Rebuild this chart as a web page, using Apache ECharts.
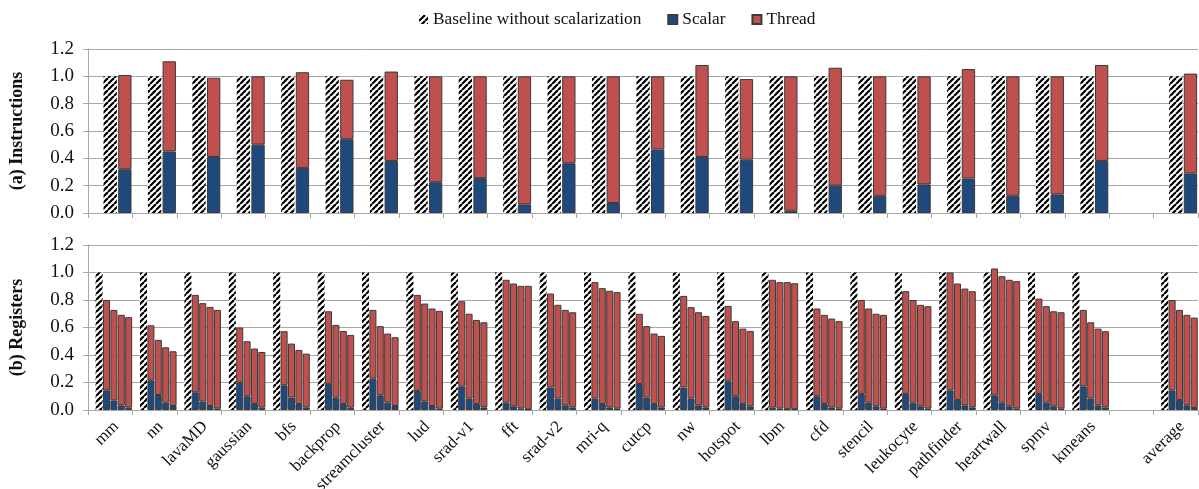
<!DOCTYPE html>
<html><head><meta charset="utf-8">
<script src="https://cdn.jsdelivr.net/npm/echarts@6/dist/echarts.min.js"></script>
<style>html,body{margin:0;padding:0;background:#fff}#c{width:1199px;height:489px}</style>
</head><body><div id="c"></div>
<script>
const categories = ['mm','nn','lavaMD','gaussian','bfs','backprop','streamcluster','lud','srad-v1','fft','srad-v2','mri-q','cutcp','nw','hotspot','lbm','cfd','stencil','leukocyte','pathfinder','heartwall','spmv','kmeans','','average'];
const yTicks = [0, 0.2, 0.4, 0.6, 0.8, 1.0, 1.2];

// (a) Instructions
const instrBaseline = [1,1,1,1,1,1,1,1,1,1,1,1,1,1,1,1,1,1,1,1,1,1,1,null,1];
const instrScalar = [0.32,0.45,0.41,0.50,0.33,0.54,0.38,0.225,0.255,0.063,0.364,0.073,0.464,0.41,0.39,0.017,0.20,0.126,0.209,0.252,0.126,0.136,0.381,null,0.29];
const instrThread = [0.69,0.66,0.58,0.50,0.70,0.435,0.655,0.775,0.745,0.937,0.636,0.927,0.536,0.673,0.59,0.983,0.863,0.874,0.791,0.801,0.874,0.864,0.702,null,0.73];

// (b) Registers
const regBaseline = [1,1,1,1,1,1,1,1,1,1,1,1,1,1,1,1,1,1,1,1,1,1,1,null,1];
const regScalar1 = [0.143,0.216,0.129,0.20,0.18,0.19,0.228,0.138,0.172,0.053,0.163,0.083,0.189,0.163,0.209,0.017,0.10,0.117,0.117,0.143,0.107,0.117,0.172,null,0.143];
const regThread1 = [0.657,0.40,0.708,0.40,0.393,0.528,0.50,0.699,0.619,0.894,0.684,0.847,0.511,0.667,0.548,0.93,0.638,0.683,0.747,0.857,0.922,0.693,0.556,null,0.657];
const regScalar2 = [0.070,0.109,0.061,0.10,0.09,0.09,0.107,0.063,0.083,0.027,0.083,0.044,0.09,0.083,0.10,0.01,0.044,0.053,0.053,0.073,0.053,0.053,0.083,null,0.073];
const regThread2 = [0.658,0.401,0.716,0.40,0.393,0.529,0.503,0.711,0.617,0.893,0.682,0.842,0.52,0.665,0.546,0.92,0.648,0.685,0.747,0.847,0.92,0.702,0.555,null,0.655];
const regScalar3 = [0.034,0.053,0.029,0.044,0.044,0.044,0.053,0.029,0.044,0.01,0.034,0.019,0.044,0.034,0.044,0.006,0.019,0.027,0.027,0.034,0.027,0.027,0.034,null,0.034];
const regThread3 = [0.658,0.403,0.721,0.403,0.393,0.531,0.503,0.709,0.611,0.893,0.694,0.848,0.512,0.677,0.548,0.924,0.646,0.673,0.738,0.849,0.92,0.691,0.558,null,0.658];
const regScalar4 = [0.017,0.029,0.012,0.017,0.019,0.017,0.029,0.01,0.019,0.005,0.019,0.01,0.019,0.019,0.027,0.006,0.01,0.01,0.01,0.019,0.01,0.01,0.019,null,0.015];
const regThread4 = [0.658,0.398,0.716,0.405,0.391,0.529,0.50,0.711,0.619,0.898,0.692,0.847,0.52,0.665,0.548,0.916,0.636,0.682,0.745,0.845,0.927,0.701,0.554,null,0.657];

const NAME_BASE = 'Baseline without scalarization';
const NAME_SCALAR = 'Scalar';
const NAME_THREAD = 'Thread';

// hatch pattern
const pc = document.createElement('canvas');
const S = 6; pc.width = S; pc.height = S;
const g = pc.getContext('2d');
g.fillStyle = '#fff'; g.fillRect(0,0,S,S);
g.strokeStyle = '#000'; g.lineWidth = 2.2;
for (let k = -1; k <= 1; k++) { g.beginPath(); g.moveTo(k*S, S); g.lineTo(k*S + S, 0); g.stroke(); }
const hatch = { image: pc, repeat: 'repeat' };

const FONT = '"Liberation Serif", "Times New Roman", serif';
const GRID_COLOR = '#a8a8a8';
const BORDER = '#3a3a3a';
const C_SCALAR = '#1f497d';
const C_THREAD = '#c0504d';

function xAxisCfg(idx, showLabels) {
  return {
    type: 'category', gridIndex: idx, data: categories,
    axisLine: { lineStyle: { color: GRID_COLOR, width: 1 } },
    axisTick: { show: true, length: 5, lineStyle: { color: GRID_COLOR } },
    axisLabel: { show: showLabels, interval: 0, rotate: 45, verticalAlign: 'top', fontFamily: FONT, fontSize: 17, color: '#111', margin: 8 }
  };
}
function yAxisCfg(idx, name) {
  return {
    type: 'value', gridIndex: idx, min: 0, max: 1.2, interval: 0.2,
    name: name, nameLocation: 'middle', nameRotate: 90, nameGap: 62,
    nameTextStyle: { fontFamily: FONT, fontSize: 18, fontWeight: 'bold', color: '#111' },
    axisLine: { show: true, lineStyle: { color: GRID_COLOR, width: 1 } },
    axisTick: { show: true, length: 5, lineStyle: { color: GRID_COLOR } },
    splitLine: { show: true, lineStyle: { color: GRID_COLOR, width: 1 } },
    axisLabel: { fontFamily: FONT, fontSize: 19, color: '#111', margin: 14, formatter: v => v.toFixed(1) }
  };
}

const topGap = { barGap: '10%', barCategoryGap: '4%' };
const botGap = { barGap: '5%', barCategoryGap: '1%' };
const stackStyle = c => ({ color: c, borderColor: BORDER, borderWidth: 1 });

const series = [];
// top panel
series.push(Object.assign({ type: 'bar', name: 'pad', xAxisIndex: 0, yAxisIndex: 0, stack: 'tp', data: [] }, topGap));
series.push(Object.assign({ type: 'bar', name: NAME_BASE, xAxisIndex: 0, yAxisIndex: 0, stack: 'tb', data: instrBaseline, itemStyle: { color: hatch } }, topGap));
series.push(Object.assign({ type: 'bar', name: NAME_SCALAR, xAxisIndex: 0, yAxisIndex: 0, stack: 'ts', data: instrScalar, itemStyle: stackStyle(C_SCALAR) }, topGap));
series.push(Object.assign({ type: 'bar', name: NAME_THREAD, xAxisIndex: 0, yAxisIndex: 0, stack: 'ts', data: instrThread, itemStyle: stackStyle(C_THREAD) }, topGap));
// bottom panel
series.push(Object.assign({ type: 'bar', name: 'pad', xAxisIndex: 1, yAxisIndex: 1, stack: 'bp', data: [] }, botGap));
series.push(Object.assign({ type: 'bar', name: NAME_BASE, xAxisIndex: 1, yAxisIndex: 1, stack: 'bb', data: regBaseline, itemStyle: { color: hatch } }, botGap));
const regPairs = [[regScalar1, regThread1],[regScalar2, regThread2],[regScalar3, regThread3],[regScalar4, regThread4]];
regPairs.forEach((p, i) => {
  series.push(Object.assign({ type: 'bar', name: NAME_SCALAR, xAxisIndex: 1, yAxisIndex: 1, stack: 'r' + i, data: p[0], itemStyle: stackStyle(C_SCALAR) }, botGap));
  series.push(Object.assign({ type: 'bar', name: NAME_THREAD, xAxisIndex: 1, yAxisIndex: 1, stack: 'r' + i, data: p[1], itemStyle: stackStyle(C_THREAD) }, botGap));
});

const chart = echarts.init(document.getElementById('c'), null, { renderer: 'canvas' });
chart.setOption({
  animation: false,
  backgroundColor: '#fff',
  legend: {
    data: [NAME_BASE, NAME_SCALAR, NAME_THREAD],
    left: 414, top: 6, icon: 'rect', itemWidth: 9, itemHeight: 9, itemGap: 26,
    selectedMode: false,
    textStyle: { fontFamily: FONT, fontSize: 17.3, color: '#111' }
  },
  grid: [
    { left: 88, width: 1110, top: 49, height: 164, containLabel: false, outerBoundsMode: 'none' },
    { left: 88, width: 1110, top: 245, height: 165, containLabel: false, outerBoundsMode: 'none' }
  ],
  xAxis: [xAxisCfg(0, false), xAxisCfg(1, true)],
  yAxis: [yAxisCfg(0, '(a) Instructions'), yAxisCfg(1, '(b) Registers')],
  series: series
});
</script></body></html>
